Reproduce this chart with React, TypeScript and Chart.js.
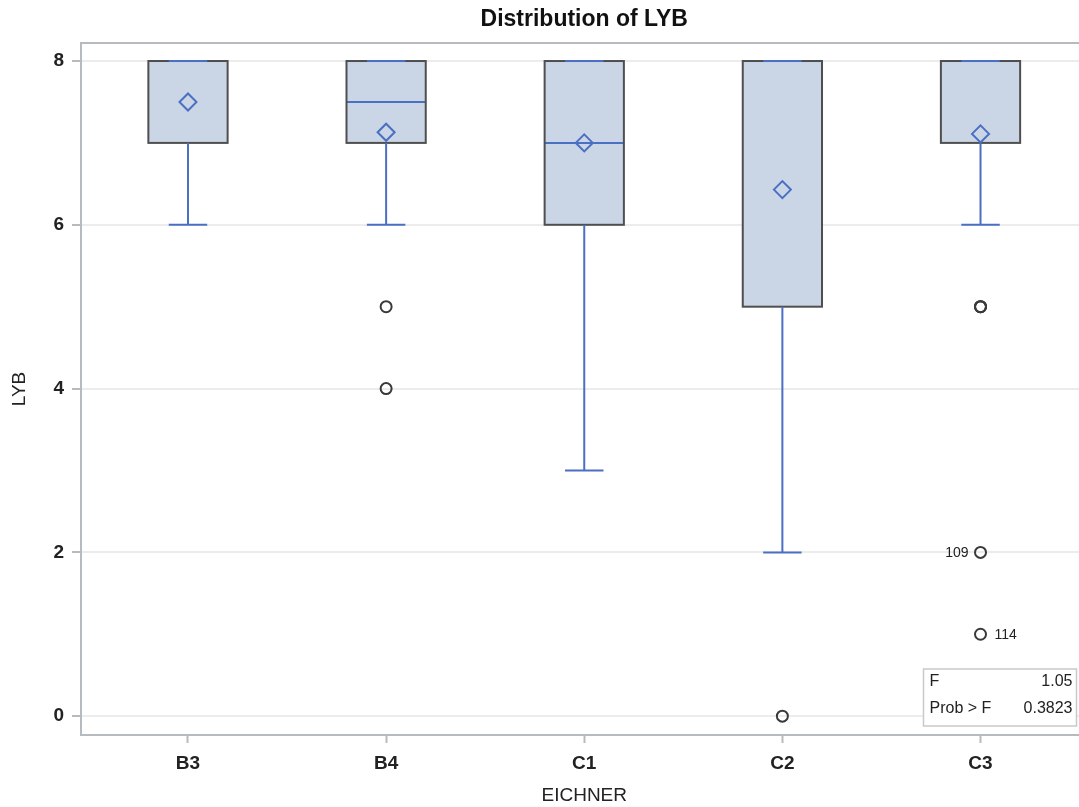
import React, { useEffect, useRef } from 'react';
import { Chart, registerables } from 'chart.js';

Chart.register(...registerables);

// ---- data ----
const categories = ['B3', 'B4', 'C1', 'C2', 'C3'];
const q1 = [7, 7, 6, 5, 7];
const medians = [8, 7.5, 7, 8, 8];
const q3 = [8, 8, 8, 8, 8];
const whiskerLow = [6, 6, 3, 2, 6];
const whiskerHigh = [8, 8, 8, 8, 8];
const means = [7.5, 7.13, 7.0, 6.43, 7.11];
const outlierCat = [1, 1, 3, 4, 4, 4, 4, 4];
const outlierVal = [5, 4, 0, 5, 5, 5, 2, 1];
const outlierIds = ['', '', '', '', '', '', '109', '114'];
const outlierIdSide = ['', '', '', '', '', '', 'left', 'right'];
const yTicks = [0, 2, 4, 6, 8];
const statNames = ['F', 'Prob > F'];
const statValues = ['1.05', '0.3823'];

// ---- styles ----
const FONT = "'Liberation Sans', Arial, Helvetica, sans-serif";
const BLUE = '#4a6fc3';
const BOX_FILL = '#cad5e5';
const OUTLINE = '#4f4f4f';
const AXIS = '#b6bbc0';
const TEXT = '#222222';
const BOX_HALF = 0.2;
const CAP_HALF = 0.097;
const CANVAS_W = 1098;
const CANVAS_H = 807;

function line(ctx: CanvasRenderingContext2D, x1: number, y1: number, x2: number, y2: number) {
  ctx.beginPath();
  ctx.moveTo(x1, y1);
  ctx.lineTo(x2, y2);
  ctx.stroke();
}

const boxPlugin = {
  id: 'boxPlot',
  beforeDatasetsDraw(chart: any) {
    const { ctx, chartArea } = chart;
    const x = chart.scales.x;
    const y = chart.scales.y;
    ctx.save();
    // top frame line
    ctx.strokeStyle = AXIS;
    ctx.lineWidth = 2;
    line(ctx, chartArea.left, chartArea.top, chartArea.right, chartArea.top);

    categories.forEach((_, i) => {
      const l = x.getPixelForValue(i - BOX_HALF);
      const r = x.getPixelForValue(i + BOX_HALF);
      const cx = x.getPixelForValue(i);
      const cl = x.getPixelForValue(i - CAP_HALF);
      const cr = x.getPixelForValue(i + CAP_HALF);
      const top = y.getPixelForValue(q3[i]);
      const bot = y.getPixelForValue(q1[i]);
      const med = y.getPixelForValue(medians[i]);
      const wl = y.getPixelForValue(whiskerLow[i]);
      const wh = y.getPixelForValue(whiskerHigh[i]);

      ctx.fillStyle = BOX_FILL;
      ctx.fillRect(l, top, r - l, bot - top);

      ctx.strokeStyle = BLUE;
      ctx.lineWidth = 2;
      line(ctx, l, med, r, med);

      ctx.strokeStyle = OUTLINE;
      ctx.lineWidth = 2;
      ctx.strokeRect(l, top, r - l, bot - top);

      ctx.strokeStyle = BLUE;
      ctx.lineWidth = 2;
      if (wl > bot) line(ctx, cx, bot, cx, wl);
      line(ctx, cl, wl, cr, wl);
      if (wh < top) line(ctx, cx, top, cx, wh);
      line(ctx, cl, wh, cr, wh);
    });
    ctx.restore();
  },
  afterDatasetsDraw(chart: any) {
    const { ctx, chartArea } = chart;
    const x = chart.scales.x;
    const y = chart.scales.y;
    ctx.save();
    // outlier id labels
    ctx.font = `14px ${FONT}`;
    ctx.fillStyle = TEXT;
    ctx.textBaseline = 'middle';
    outlierIds.forEach((id, k) => {
      if (!id) return;
      const px = x.getPixelForValue(outlierCat[k]);
      const py = y.getPixelForValue(outlierVal[k]);
      if (outlierIdSide[k] === 'left') {
        ctx.textAlign = 'right';
        ctx.fillText(id, px - 12, py + 1);
      } else {
        ctx.textAlign = 'left';
        ctx.fillText(id, px + 14, py + 1);
      }
    });

    // inset statistics box
    const w = 153;
    const h = 57;
    const right = chartArea.right - 11;
    const bottom = chartArea.bottom - 9;
    const left = right - w;
    const top = bottom - h;
    ctx.fillStyle = '#ffffff';
    ctx.fillRect(left, top, w, h);
    ctx.strokeStyle = '#c9c9c9';
    ctx.lineWidth = 1.5;
    ctx.strokeRect(left, top, w, h);
    ctx.font = `16px ${FONT}`;
    ctx.fillStyle = TEXT;
    statNames.forEach((name, k) => {
      const ty = top + 13 + k * 27;
      ctx.textAlign = 'left';
      ctx.fillText(name, left + 6, ty);
      ctx.textAlign = 'right';
      ctx.fillText(statValues[k], right - 4, ty);
    });

    // chart title centered over the plot area
    ctx.font = `bold 23px ${FONT}`;
    ctx.fillStyle = '#111111';
    ctx.textAlign = 'center';
    ctx.fillText('Distribution of LYB', (chartArea.left + chartArea.right) / 2, 20);
    ctx.restore();
  },
};

export default function App() {
  const ref = useRef<HTMLCanvasElement>(null);

  useEffect(() => {
    if (!ref.current) return;
    const chart = new Chart(ref.current, {
      type: 'scatter',
      data: {
        datasets: [
          {
            label: 'Mean',
            data: categories.map((_, i) => ({ x: i, y: means[i] })),
            pointStyle: 'rectRot',
            pointRadius: 8.5,
            borderColor: BLUE,
            backgroundColor: 'rgba(0,0,0,0)',
            borderWidth: 2,
          },
          {
            label: 'Outliers',
            data: outlierCat.map((c, k) => ({ x: c, y: outlierVal[k] })),
            pointStyle: 'circle',
            pointRadius: 5.5,
            borderColor: '#3a3a3a',
            backgroundColor: 'rgba(0,0,0,0)',
            borderWidth: 2,
          },
        ],
      },
      options: {
        animation: false,
        responsive: false,
        maintainAspectRatio: false,
        devicePixelRatio: 1,
        events: [],
        layout: { padding: { top: 43, right: 3, left: 0, bottom: 0 } },
        plugins: {
          legend: { display: false },
          tooltip: { enabled: false },
          title: { display: false },
        },
        scales: {
          x: {
            type: 'linear',
            min: -0.54,
            max: 4.54,
            afterBuildTicks: (s: any) => {
              s.ticks = categories.map((_, i) => ({ value: i }));
            },
            afterFit: (s: any) => {
              s.height = 72;
            },
            ticks: {
              callback: (v: any) => categories[Math.round(Number(v))] ?? '',
              font: { family: FONT, size: 19, weight: 'bold' },
              color: TEXT,
              padding: 9,
              autoSkip: false,
              maxRotation: 0,
            },
            grid: {
              drawOnChartArea: false,
              drawTicks: true,
              tickLength: 8,
              tickColor: AXIS,
              tickWidth: 2,
            },
            border: { display: true, color: AXIS, width: 2 },
            title: {
              display: true,
              text: 'EICHNER',
              font: { family: FONT, size: 19 },
              color: TEXT,
              padding: { top: 0, bottom: 0 },
            },
          },
          y: {
            type: 'linear',
            min: -0.23,
            max: 8.22,
            afterBuildTicks: (s: any) => {
              s.ticks = yTicks.map((v) => ({ value: v }));
            },
            afterFit: (s: any) => {
              s.width = 81;
            },
            ticks: {
              font: { family: FONT, size: 19, weight: 'bold' },
              color: TEXT,
              padding: 8,
            },
            grid: {
              color: '#ececec',
              lineWidth: 2,
              tickLength: 9,
              tickColor: AXIS,
              tickWidth: 2,
            },
            border: { display: true, color: AXIS, width: 2 },
            title: {
              display: true,
              text: 'LYB',
              font: { family: FONT, size: 19 },
              color: TEXT,
              padding: { top: 8.6, bottom: 0 },
            },
          },
        },
      },
      plugins: [boxPlugin],
    } as any);
    return () => chart.destroy();
  }, []);

  return (
    <div
      style={{
        position: 'absolute',
        left: 0,
        top: 0,
        width: 1079,
        height: 807,
        overflow: 'hidden',
        background: '#ffffff',
      }}
    >
      <canvas
        ref={ref}
        width={CANVAS_W}
        height={CANVAS_H}
        style={{ display: 'block', width: CANVAS_W, height: CANVAS_H }}
      />
    </div>
  );
}
